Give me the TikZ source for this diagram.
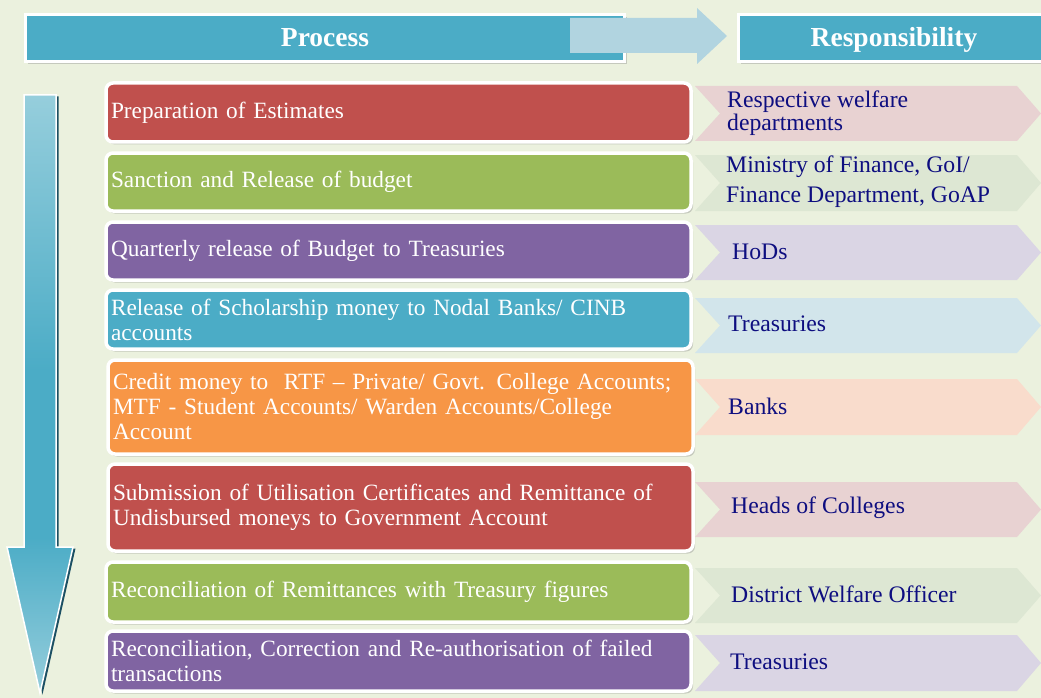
\documentclass[tikz,border=0pt]{standalone}
\usepackage{fontspec}
\setmainfont{Liberation Serif}
\usepackage{tikz}
\usetikzlibrary{shadows}

\definecolor{bgcol}{HTML}{EBF1DE}
\definecolor{tealcol}{HTML}{4BACC6}
\definecolor{redcol}{HTML}{C0504D}
\definecolor{greencol}{HTML}{9BBB59}
\definecolor{purplecol}{HTML}{8064A2}
\definecolor{orangecol}{HTML}{F79646}
\definecolor{headarrow}{HTML}{B1D4E0}
\definecolor{lighttop}{HTML}{96CEDC}
\definecolor{arrowdark}{HTML}{1B4F63}
\definecolor{navytext}{HTML}{0E0E80}
\definecolor{redtint}{HTML}{E8D2D2}
\definecolor{greentint}{HTML}{DDE7D3}
\definecolor{purpletint}{HTML}{DAD5E4}
\definecolor{bluetint}{HTML}{D2E5EB}
\definecolor{orangetint}{HTML}{F9DCCC}

\pgfdeclareverticalshading{downarrow}{100bp}{color(0bp)=(lighttop); color(25bp)=(lighttop);
  color(38bp)=(tealcol); color(52bp)=(tealcol); color(75bp)=(lighttop); color(100bp)=(lighttop)}

\begin{document}
\begin{tikzpicture}[x=1pt,y=-1pt,
    headbox/.style={rectangle, fill=tealcol, draw=white, line width=3pt,
      minimum height=47pt, text height=21pt, text depth=4pt, text=white,
      font=\fontsize{27.5pt}{30pt}\selectfont\bfseries,
      drop shadow={shadow xshift=2pt, shadow yshift=-2.5pt, opacity=0.35}},
    procbox/.style={rectangle, rounded corners=7pt, draw=white, line width=3.5pt,
      text=white, minimum width=585pt, text width=575pt, inner xsep=0pt, inner ysep=0pt,
      align=left, font=\fontsize{23.3pt}{25pt}\selectfont,
      drop shadow={shadow xshift=2pt, shadow yshift=-2.5pt, opacity=0.35}},
    resptext/.style={anchor=west, text=navytext, align=left, inner sep=0pt,
      font=\fontsize{23.7pt}{23pt}\selectfont}]
  \useasboundingbox (0,0) rectangle (1041,698);
  \clip (0,0) rectangle (1041,698);
  % Background
  \fill[bgcol] (0,0) rectangle (1041,698);

  % Header boxes
  \node[headbox, minimum width=599pt] (hproc) at (325,38) {Process};
  \node[headbox, minimum width=311pt] (hresp) at (894,38) {Responsibility};
  % Arrow between the headers
  \fill[headarrow] (570,18) -- (697,18) -- (697,8) -- (727,36)
      -- (697,64) -- (697,53) -- (570,53) -- cycle;

  % Vertical arrow at the left
  \fill[arrowdark, xshift=2.5pt, yshift=-1.5pt] (24,95) -- (56,95) -- (56,547)
      -- (73,547) -- (40,693) -- (7,547) -- (24,547) -- cycle;
  \shade[shading=downarrow, draw=white, line width=1.5pt] (24,95) -- (56,95) -- (56,547)
      -- (73,547) -- (40,693) -- (7,547) -- (24,547) -- cycle;

  % Process steps
  \node[procbox, fill=redcol, minimum height=59pt] (p1) at (398.5,112.5)
      {Preparation of Estimates};
  \node[procbox, fill=greencol, minimum height=58pt] (p2) at (398.5,182)
      {Sanction and Release of budget};
  \node[procbox, fill=purplecol, minimum height=58pt] (p3) at (398.5,251)
      {Quarterly release of Budget to Treasuries};
  \node[procbox, fill=tealcol, minimum height=59pt] (p4) at (398.5,319.5)
      {Release of Scholarship money to Nodal Banks/ CINB\\accounts};
  \node[procbox, fill=orangecol, minimum height=94pt] (p5) at (400.5,407)
      {Credit money to~ RTF -- Private/ Govt. College Accounts;\\
       MTF - Student Accounts/ Warden Accounts/College\\Account};
  \node[procbox, fill=redcol, minimum height=87pt] (p6) at (400.5,507.5)
      {Submission of Utilisation Certificates and Remittance of\\
       Undisbursed moneys to Government Account};
  \node[procbox, fill=greencol, minimum height=60pt] (p7) at (398.5,592)
      {Reconciliation of Remittances with Treasury figures};
  \node[procbox, fill=purplecol, minimum height=60pt] (p8) at (398.5,661)
      {Reconciliation, Correction and Re-authorisation of failed\\transactions};

  % Responsibility chevrons
  \fill[redtint] (695,86) -- (1017,86) -- (1041,113.5) -- (1017,141)
      -- (695,141) -- (720,113.5) -- cycle;
  \fill[greentint] (695,155) -- (1017,155) -- (1041,183) -- (1017,211)
      -- (695,211) -- (720,183) -- cycle;
  \fill[purpletint] (695,225) -- (1017,225) -- (1041,252.5) -- (1017,280)
      -- (695,280) -- (720,252.5) -- cycle;
  \fill[bluetint] (695,298) -- (1017,298) -- (1041,325.5) -- (1017,353)
      -- (695,353) -- (720,325.5) -- cycle;
  \fill[orangetint] (695,379) -- (1017,379) -- (1041,407) -- (1017,435)
      -- (695,435) -- (720,407) -- cycle;
  \fill[redtint] (695,482) -- (1017,482) -- (1041,509.5) -- (1017,537)
      -- (695,537) -- (720,509.5) -- cycle;
  \fill[greentint] (695,568) -- (1017,568) -- (1041,595.5) -- (1017,623)
      -- (695,623) -- (720,595.5) -- cycle;
  \fill[purpletint] (695,635) -- (1017,635) -- (1041,663) -- (1017,691)
      -- (695,691) -- (720,663) -- cycle;

  % Responsibility texts
  \node[resptext] (r1) at (727,113.5) {Respective welfare\\departments};
  \node[resptext, font=\fontsize{23.7pt}{30pt}\selectfont] (r2) at (726,182)
      {Ministry of Finance, GoI/\\Finance Department, GoAP};
  \node[resptext] (r3) at (732,252) {HoDs};
  \node[resptext] (r4) at (728,324) {Treasuries};
  \node[resptext] (r5) at (728,406) {Banks};
  \node[resptext] (r6) at (731,508) {Heads of Colleges};
  \node[resptext] (r7) at (731,594) {District Welfare Officer};
  \node[resptext] (r8) at (730,662) {Treasuries};
\end{tikzpicture}
\end{document}
